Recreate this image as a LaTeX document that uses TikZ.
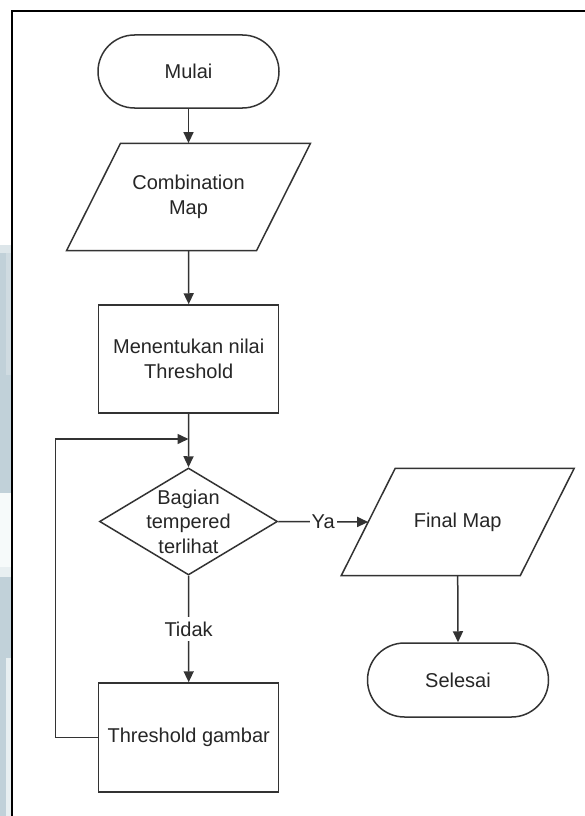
\documentclass[tikz,border=0pt]{standalone}
\usepackage{fontspec}
\setmainfont{Liberation Sans}
\usetikzlibrary{shapes.geometric,shapes.misc,arrows.meta,calc}

\definecolor{linec}{HTML}{333333}
\definecolor{textc}{HTML}{262626}
\definecolor{stripblue}{RGB}{193,209,217}
\definecolor{stripsoft}{RGB}{207,219,225}
\definecolor{stripedge}{RGB}{221,230,234}
\definecolor{stripfade}{RGB}{232,239,241}
\definecolor{stripwhite}{RGB}{246,250,250}

\begin{document}
\begin{tikzpicture}[x=1pt,y=-1pt,
  every node/.style={font=\fontsize{20}{24.5}\selectfont, text=textc},
  shapebase/.style={draw=linec, line width=1.5pt, inner sep=0pt, align=center},
  terminal/.style={shapebase, rounded rectangle, minimum width=181pt, minimum height=73pt},
  process/.style={shapebase, rectangle, minimum width=180pt, minimum height=108pt},
  decision/.style={shapebase, diamond, minimum width=178pt, minimum height=107pt},
  iobody/.style={rectangle, inner sep=0pt, minimum width=136pt, minimum height=107.4pt, align=center},
  ioframe/.style={draw=linec, line width=1.5pt, line join=miter},
  flowline/.style={draw=linec, line width=1.5pt, -{Triangle[length=11pt,width=10pt]}},
  branch/.style={fill=white, inner xsep=2pt, inner ysep=5pt},
]
\useasboundingbox (0,0) rectangle (585,816);
\clip (0,0) rectangle (585,816);

% background strip along the left edge
\fill[stripedge]  (0,245) rectangle (11,253);
\fill[stripblue]  (0,253) rectangle (11,493);
\fill[stripsoft]  (6,253) rectangle (11,375);
\fill[stripwhite] (0,493) rectangle (11,567);
\fill[stripfade]  (0,567) rectangle (11,577);
\fill[stripblue]  (0,577) rectangle (11,816);
\fill[stripfade]  (6,658) rectangle (11,816);

% outer frame
\draw[black, line width=2.2pt] (12.2,840) |- (620,11);

% flowchart nodes
\node[terminal] (start) at (188.5,71.5) {Mulai};
\node[iobody] (comb) at (188.5,197) {Combination\\Map};
\node[process] (thr0) at (188.7,359) {Menentukan nilai\\Threshold};
\node[decision, label={[align=center]center:Bagian\\tempered\\terlihat}] (dec) at (188.5,521.5) {};
\node[process, minimum height=109pt] (thr) at (188.7,737.5) {Threshold gambar};
\node[iobody] (fmap) at (457.7,522) {Final Map};
\node[terminal, minimum height=74pt] (stop) at (458,680) {Selesai};

% parallelogram outlines of the data nodes
\draw[ioframe] ($(comb.center)+(-68,-53.7)$) -- ++(190,0) -- ++(-54,107.4) -- ++(-190,0) -- cycle;
\draw[ioframe] ($(fmap.center)+(-62.5,-53.7)$) -- ++(179,0) -- ++(-54,107.4) -- ++(-179,0) -- cycle;

% helper points
\coordinate (fmin) at ($(fmap.center)+(-89.5,0)$);
\coordinate (merge) at (188.5,439);
\coordinate (loopx) at (55.5,0);

% connectors
\draw[flowline] (start.south) -- (comb.north);
\draw[flowline] (comb.south) -- (thr0.north);
\draw[flowline] (thr0.south) -- (dec.north);
\draw[flowline] (dec.south) -- node[branch] {Tidak} (thr.north);
\draw[flowline] (dec.east) -- node[branch] {Ya} (fmin);
\draw[flowline] (fmap.south) -- (stop.north);
\draw[flowline] (thr.west) -- (thr.west -| loopx) |- (merge);
\end{tikzpicture}
\end{document}
